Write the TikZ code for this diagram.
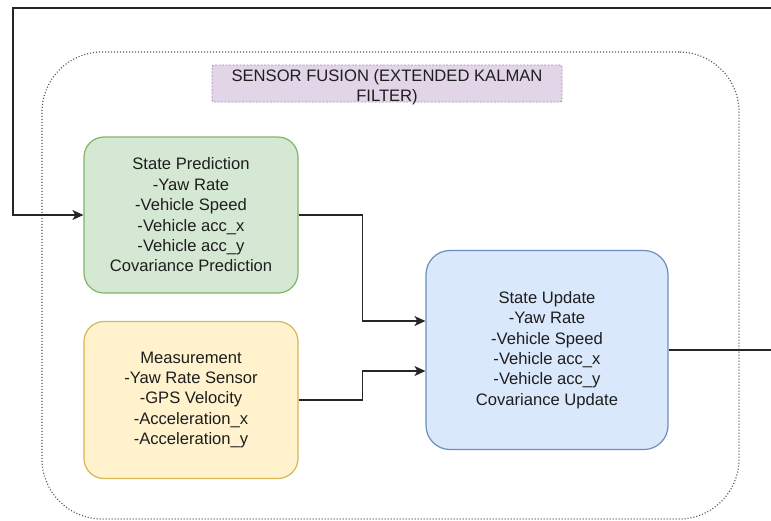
\documentclass[tikz,border=0pt]{standalone}
\usepackage{fontspec}
\setmainfont{Liberation Sans}
\usetikzlibrary{arrows.meta}

\definecolor{predfill}{HTML}{D5E8D4}
\definecolor{predline}{HTML}{82B366}
\definecolor{measfill}{HTML}{FFF2CC}
\definecolor{measline}{HTML}{D6B656}
\definecolor{updfill}{HTML}{DAE8FC}
\definecolor{updline}{HTML}{6C8EBF}
\definecolor{titlefill}{HTML}{E1D5E7}
\definecolor{titleline}{HTML}{9673A6}
\definecolor{framegray}{HTML}{555555}
\definecolor{inkgray}{HTML}{1E1E1E}

\begin{document}
\begin{tikzpicture}[x=1pt,y=-1pt,
  every node/.style={font=\fontsize{16.6}{20.4}\selectfont, text=inkgray, align=center, inner sep=0pt},
  block/.style={rectangle, rounded corners=20pt, line width=1.2pt},
  container/.style={rectangle, rounded corners=60pt, draw=framegray, line width=1.2pt,
    dash pattern=on 1pt off 2pt},
  titlebox/.style={rectangle, rounded corners=2pt, fill=titlefill, draw=titleline!80,
    line width=0.9pt, dash pattern=on 2pt off 1.5pt},
  conn/.style={draw=black!85, line width=1.3pt},
  arr/.style={conn, -{Stealth[length=11pt, width=10pt, inset=3pt]}}
]
\useasboundingbox (0,0) rectangle (771,520);

% dotted container around the filter stages
\node[container, minimum width=697pt, minimum height=467pt] (fusion) at (390.5,285.5) {};

% heading
\node[titlebox, minimum width=350pt, minimum height=37pt] (title) at (387,83.5) {};
\node (titletext) at (387,87) {SENSOR FUSION (EXTENDED KALMAN\\FILTER)};

% filter stages
\node[block, fill=predfill, draw=predline, minimum width=214pt, minimum height=156pt]
  (pred) at (191,215)
  {State Prediction\\-Yaw Rate\\-Vehicle Speed\\-Vehicle acc\_x\\-Vehicle acc\_y\\Covariance Prediction};

\node[block, fill=measfill, draw=measline, minimum width=214pt, minimum height=157pt]
  (meas) at (191,400)
  {Measurement\\-Yaw Rate Sensor\\-GPS Velocity\\-Acceleration\_x\\-Acceleration\_y};

\node[block, rounded corners=24pt, fill=updfill, draw=updline, minimum width=242pt, minimum height=199pt]
  (upd) at (547,350)
  {State Update\\-Yaw Rate\\-Vehicle Speed\\-Vehicle acc\_x\\-Vehicle acc\_y\\Covariance Update};

% feedback loop entering the prediction stage
\coordinate (loopin) at (771,8);
\coordinate (loopcorner) at (13,8);
\draw[arr] (loopin) -- (loopcorner) |- (pred.west);

% prediction and measurement into the update stage
\draw[arr] (pred.east) -- ++(64,0) |- ([yshift=29pt]upd.west);
\draw[arr] (meas.east) -- ++(64,0) |- ([yshift=-21pt]upd.west);

% update output
\coordinate (out) at (771,350);
\draw[conn] (upd.east) -- (out);
\end{tikzpicture}
\end{document}
